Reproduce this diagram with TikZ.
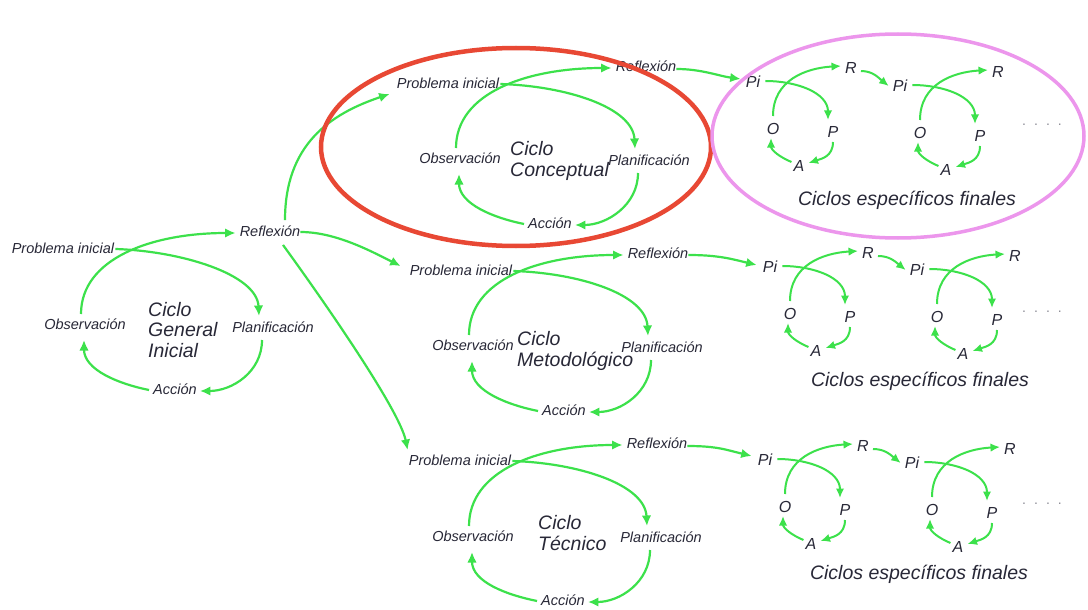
\documentclass[tikz,border=0pt]{standalone}
\usepackage{fontspec}
\setmainfont{Liberation Sans}
\usetikzlibrary{arrows.meta,calc}
\definecolor{arrgreen}{RGB}{60,225,75}
\definecolor{txt}{RGB}{40,40,55}
\definecolor{ovalred}{RGB}{232,72,52}
\definecolor{ovalpink}{RGB}{236,150,236}
\definecolor{dotgray}{RGB}{140,140,150}

% the four arrows of a large cycle, prefix #1
\newcommand\bigloop[1]{%
  \draw[arr] ($(#1prob.east)+(1,-1)$) .. controls +(65,2) and +(-2,-42) .. ($(#1plan.center)+(-14,-13)$);
  \draw[arr] ($(#1obs.center)+(-4,-12)$) .. controls +(0,-55) and +(-85,0) .. ($(#1refl.west)+(-4,0)$);
  \draw[arr] ($(#1plan.center)+(-11,11)$) .. controls +(0,32) and +(32,0) .. ($(#1acc.east)+(3,0)$);
  \draw[arr] ($(#1acc.west)+(-4,-1)$) .. controls +(-30,-6) and +(0,30) .. ($(#1obs.center)+(-1,14)$);
}

% a small cycle Pi, P, A, O, R with its arrows; #1 prefix, (#2,#3) position of Pi
\newcommand\smallcycle[3]{%
  \node[sml] (#1pi) at (#2,#3) {Pi};
  \node[sml] (#1r) at (#2+98,#3-14) {R};
  \node[sml] (#1o) at (#2+20,#3+47) {O};
  \node[sml] (#1p) at (#2+80,#3+50) {P};
  \node[sml] (#1a) at (#2+46,#3+84) {A};
  \draw[arr2] ($(#1pi.east)+(5,-1)$) .. controls +(32,0) and +(0,-27) .. ($(#1p.center)+(-5,-12)$);
  \draw[arr2] ($(#1o.center)+(0,-13)$) .. controls +(0,-36) and +(-35,2) .. ($(#1r.west)+(-4,-2)$);
  \draw[arr2] ($(#1p.center)+(0,10)$) .. controls +(0,15) and +(12,-4) .. ($(#1a.east)+(4,-3)$);
  \draw[arr2] ($(#1a.west)+(-2,-4)$) .. controls +(-12,-5) and +(0,12) .. ($(#1o.center)+(-2,9)$);
}

\begin{document}
\begin{tikzpicture}[x=1pt,y=-1pt,
  lbl/.style={font=\fontsize{14.5}{16}\selectfont\itshape, text=txt, inner sep=0pt,
              text height=10.5pt, text depth=3pt},
  sml/.style={font=\fontsize{16}{17}\selectfont\itshape, text=txt, inner sep=0pt,
              text height=11.5pt, text depth=1pt},
  ttl/.style={font=\fontsize{19.5}{20.5}\selectfont\itshape, text=txt, inner sep=0pt,
              align=left, anchor=west},
  captext/.style={font=\fontsize{19.5}{22}\selectfont\itshape, text=txt, inner sep=0pt},
  dotrow/.style={font=\fontsize{14}{16}\selectfont, text=dotgray, inner sep=0pt},
  arr/.style={draw=arrgreen, line width=2.2pt, -{Latex[length=10.5pt,width=9.5pt]}},
  arr2/.style={draw=arrgreen, line width=2pt, -{Latex[length=9.5pt,width=8.5pt]}},
  ovalline/.style={line width=#1}
]
\fill[white] (0,0) rectangle (1088,610);
\useasboundingbox (0,0) rectangle (1088,610);

% general initial cycle
\node[lbl] (gprob) at (63,250) {Problema inicial};
\node[lbl] (grefl) at (270,233) {Reflexión};
\node[lbl] (gobs)  at (85,326)  {Observación};
\node[lbl] (gplan) at (273,329) {Planificación};
\node[lbl] (gacc)  at (175,391) {Acción};
\node[ttl] (gttl)  at (148,330) {Ciclo\\General\\Inicial};
\bigloop{g}

% conceptual cycle
\node[lbl] (cprob) at (448,85)  {Problema inicial};
\node[lbl] (crefl) at (646,68)  {Reflexión};
\node[lbl] (cobs)  at (460,160) {Observación};
\node[lbl] (cplan) at (649,162) {Planificación};
\node[lbl] (cacc)  at (550,225) {Acción};
\node[ttl] (cttl)  at (510,161) {Ciclo\\Conceptual};
\bigloop{c}

% methodological cycle
\node[lbl] (mprob) at (461,272) {Problema inicial};
\node[lbl] (mrefl) at (658,255) {Reflexión};
\node[lbl] (mobs)  at (473,347) {Observación};
\node[lbl] (mplan) at (662,349) {Planificación};
\node[lbl] (macc)  at (564,412) {Acción};
\node[ttl] (mttl)  at (517,351) {Ciclo\\Metodológico};
\bigloop{m}

% technical cycle
\node[lbl] (tprob) at (460,462) {Problema inicial};
\node[lbl] (trefl) at (657,445) {Reflexión};
\node[lbl] (tobs)  at (473,538) {Observación};
\node[lbl] (tplan) at (661,539) {Planificación};
\node[lbl] (tacc)  at (563,602) {Acción};
\node[ttl] (tttl)  at (538,533) {Ciclo\\Técnico};
\bigloop{t}

% branches from the general reflection
\draw[arr] ($(grefl.north)+(15,-6)$) .. controls +(0,-75) and +(-60,20) .. ($(cprob.west)+(-7,9)$);
\draw[arr] ($(grefl.east)+(0,-1)$) .. controls +(35,0) and +(-30,-15) .. ($(mprob.west)+(-9,-6)$);
\draw[arr] ($(grefl.south)+(13,5)$) .. controls +(40,55) and +(-8,-40) .. ($(tprob.west)+(-1,-12)$);

% specific final cycles
\smallcycle{ua}{753}{82}
\smallcycle{ub}{900}{86}
\draw[arr2] ($(uar.east)+(4,3)$) .. controls +(12,0) and +(-10,-8) .. ($(ubpi.west)+(-4,0)$);
\node[dotrow] (udots) at (1042,125) {.\hspace{8pt}.\hspace{8pt}.\hspace{8pt}.};
\node[captext] (ucap) at (907,200) {Ciclos específicos finales};

\smallcycle{ma}{770}{267}
\smallcycle{mb}{917}{270}
\draw[arr2] ($(mar.east)+(4,3)$) .. controls +(12,0) and +(-10,-8) .. ($(mbpi.west)+(-4,0)$);
\node[dotrow] (mdots) at (1042,312) {.\hspace{8pt}.\hspace{8pt}.\hspace{8pt}.};
\node[captext] (mcap) at (920,381) {Ciclos específicos finales};

\smallcycle{ta}{765}{460}
\smallcycle{tb}{912}{463}
\draw[arr2] ($(tar.east)+(4,3)$) .. controls +(12,0) and +(-10,-8) .. ($(tbpi.west)+(-4,0)$);
\node[dotrow] (tdots) at (1042,504) {.\hspace{8pt}.\hspace{8pt}.\hspace{8pt}.};
\node[captext] (tcap) at (919,574) {Ciclos específicos finales};

% reflections leading into the specific cycles
\draw[arr] ($(crefl.east)+(0,1)$) .. controls +(25,0) and +(-22,-3) .. ($(uapi.west)+(-5,-3)$);
\draw[arr] ($(mrefl.east)+(0,0)$) .. controls +(30,0) and +(-25,-6) .. ($(mapi.west)+(-6,-2)$);
\draw[arr] ($(trefl.east)+(0,1)$) .. controls +(30,0) and +(-25,-6) .. ($(tapi.west)+(-6,-4)$);

% highlighting ovals
\draw[ovalline=4.5pt, ovalred] (516,147) ellipse [x radius=195, y radius=99];
\draw[ovalline=3.5pt, ovalpink] (898,136) ellipse [x radius=186, y radius=102];
\end{tikzpicture}
\end{document}
